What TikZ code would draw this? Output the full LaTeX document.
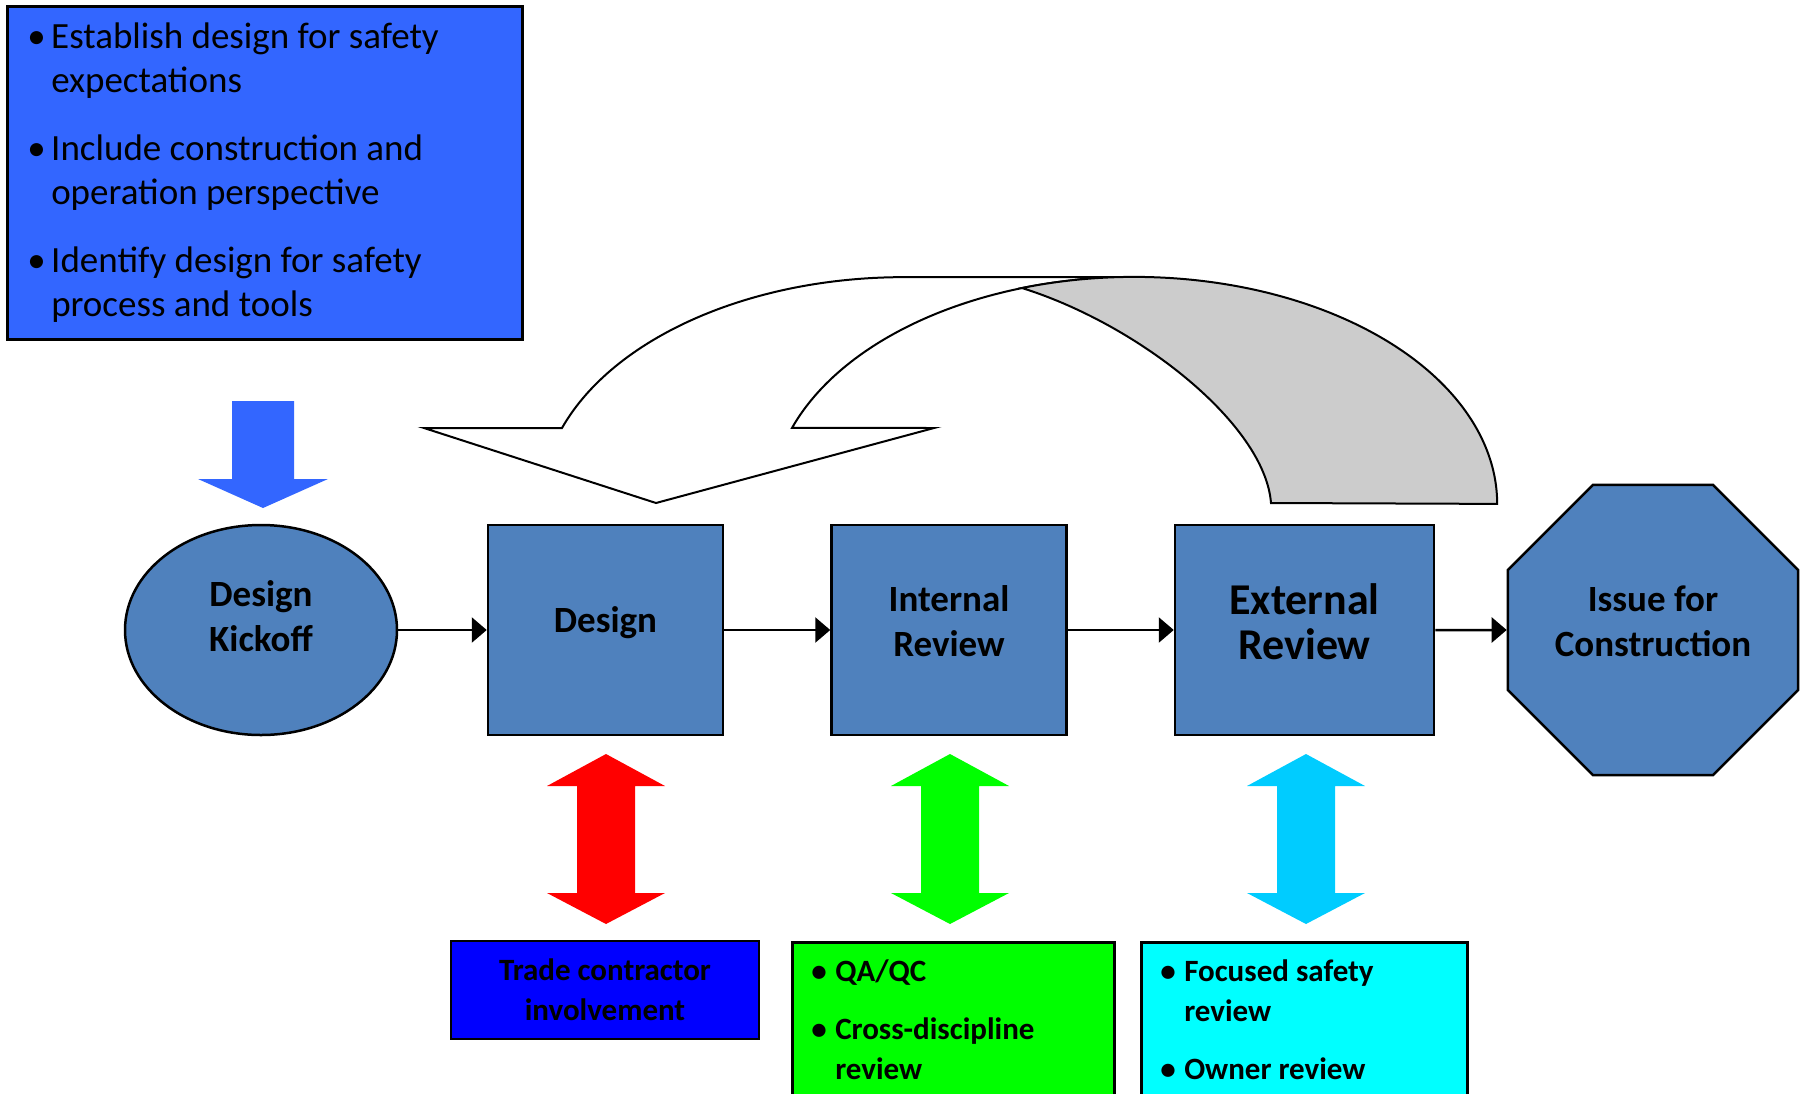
\documentclass[tikz,border=0pt]{standalone}
\usepackage{fontspec}
\setmainfont{Carlito}
\usepackage{xcolor}
\usetikzlibrary{arrows.meta,shapes.geometric}

\definecolor{goalblue}{HTML}{3366FF}
\definecolor{stepblue}{HTML}{4F81BD}
\definecolor{tradeblue}{HTML}{0000FF}
\definecolor{qagreen}{HTML}{00FF00}
\definecolor{ownercyan}{HTML}{00FFFF}
\definecolor{linkred}{HTML}{FF0000}
\definecolor{linkgreen}{HTML}{00FF00}
\definecolor{linkcyan}{HTML}{00CCFF}
\definecolor{loopgray}{HTML}{CCCCCC}

\newcommand{\bul}{\makebox[24pt][l]{\textbullet}}
\newcommand{\hang}{\hspace*{24pt}}

\begin{document}
\begin{tikzpicture}[x=1pt,y=-1pt,
  stepnode/.style={draw=black,line width=2.5pt,fill=stepblue,align=center,
    font=\fontsize{37}{45}\selectfont\bfseries,text depth=17pt},
  stepbox/.style={stepnode,rectangle,minimum width=235pt,minimum height=210pt},
  notebox/.style={draw=black,line width=2.5pt,anchor=north west,align=flush left,
    font=\fontsize{31}{40}\selectfont\bfseries}]
\useasboundingbox (0,0) rectangle (1805,1093);
\clip (0,0) rectangle (1805,1093);
\begin{scope}[>={Triangle[length=15pt,width=25pt]}]

    \node[draw=black,line width=2.5pt,fill=goalblue,anchor=north west,
          minimum width=515pt,minimum height=333pt,text width=475pt,
          inner xsep=20pt,align=flush left,font=\fontsize{37}{44}\selectfont]
        (goals) at (6,5)
        {\bul Establish design for safety\\ \hang expectations\\[24pt]
         \bul Include construction and\\ \hang operation perspective\\[24pt]
         \bul Identify design for safety\\ \hang process and tools};

    \fill[goalblue] (232,401) -- (294,401) -- (294,479) -- (328,479)
        -- (263,508) -- (198,479) -- (232,479) -- cycle;

    % loop back from external review to design
    \draw[line width=2pt,fill=white] (424,428) -- (562,428)
        arc[start angle=199.6,end angle=270,x radius=363,y radius=227]
        -- (1134,277)
        arc[start angle=270,end angle=199.6,x radius=363,y radius=227]
        -- (934,428) -- (656,503) -- cycle;
    \draw[line width=2pt,fill=loopgray] (1271,503)
        .. controls (1265,425) and (1140,325) .. (1022,288)
        arc[start angle=252,end angle=360,x radius=363,y radius=227]
        -- cycle;

    \node[stepnode,ellipse,minimum width=272pt,minimum height=210pt,
          text depth=27pt] (kickoff) at (261,630) {Design\\Kickoff};
    \node[stepbox,text depth=20pt] (design) at (605.5,630) {Design};
    \node[stepbox] (internal) at (949,630) {Internal\\Review};
    \node[stepbox,minimum width=259pt,font=\fontsize{44}{45}\selectfont\bfseries]
        (external) at (1304.5,630) {External\\Review};
    \node[stepnode,regular polygon,regular polygon sides=8,minimum size=314pt]
        (issue) at (1653,630) {Issue for\\Construction};

    \draw[->,line width=2.5pt] (kickoff) -- (design);
    \draw[->,line width=2.5pt] (design) -- (internal);
    \draw[->,line width=2.5pt] (internal) -- (external);
    \draw[->,line width=2.5pt] (external) -- (issue);

    \foreach \x/\col in {606/linkred,950/linkgreen,1306/linkcyan}
        \fill[\col] (\x,754) -- (\x+59,786) -- (\x+29,786) -- (\x+29,893)
            -- (\x+59,893) -- (\x,924) -- (\x-59,893) -- (\x-29,893)
            -- (\x-29,786) -- (\x-59,786) -- cycle;

    \node[notebox,anchor=center,align=center,fill=tradeblue,
          minimum width=308pt,minimum height=98pt]
        (trade) at (605,990) {Trade contractor\\involvement};
    \node[notebox,fill=qagreen,minimum width=322pt,minimum height=154pt,
          text width=284pt,inner xsep=19pt]
        (qaqc) at (791,941)
        {\bul QA/QC\\[18pt] \bul Cross-discipline\\ \hang review};
    \node[notebox,fill=ownercyan,minimum width=326pt,minimum height=154pt,
          text width=288pt,inner xsep=19pt]
        (owner) at (1140,941)
        {\bul Focused safety\\ \hang review\\[18pt] \bul Owner review};

\end{scope}
\end{tikzpicture}
\end{document}
